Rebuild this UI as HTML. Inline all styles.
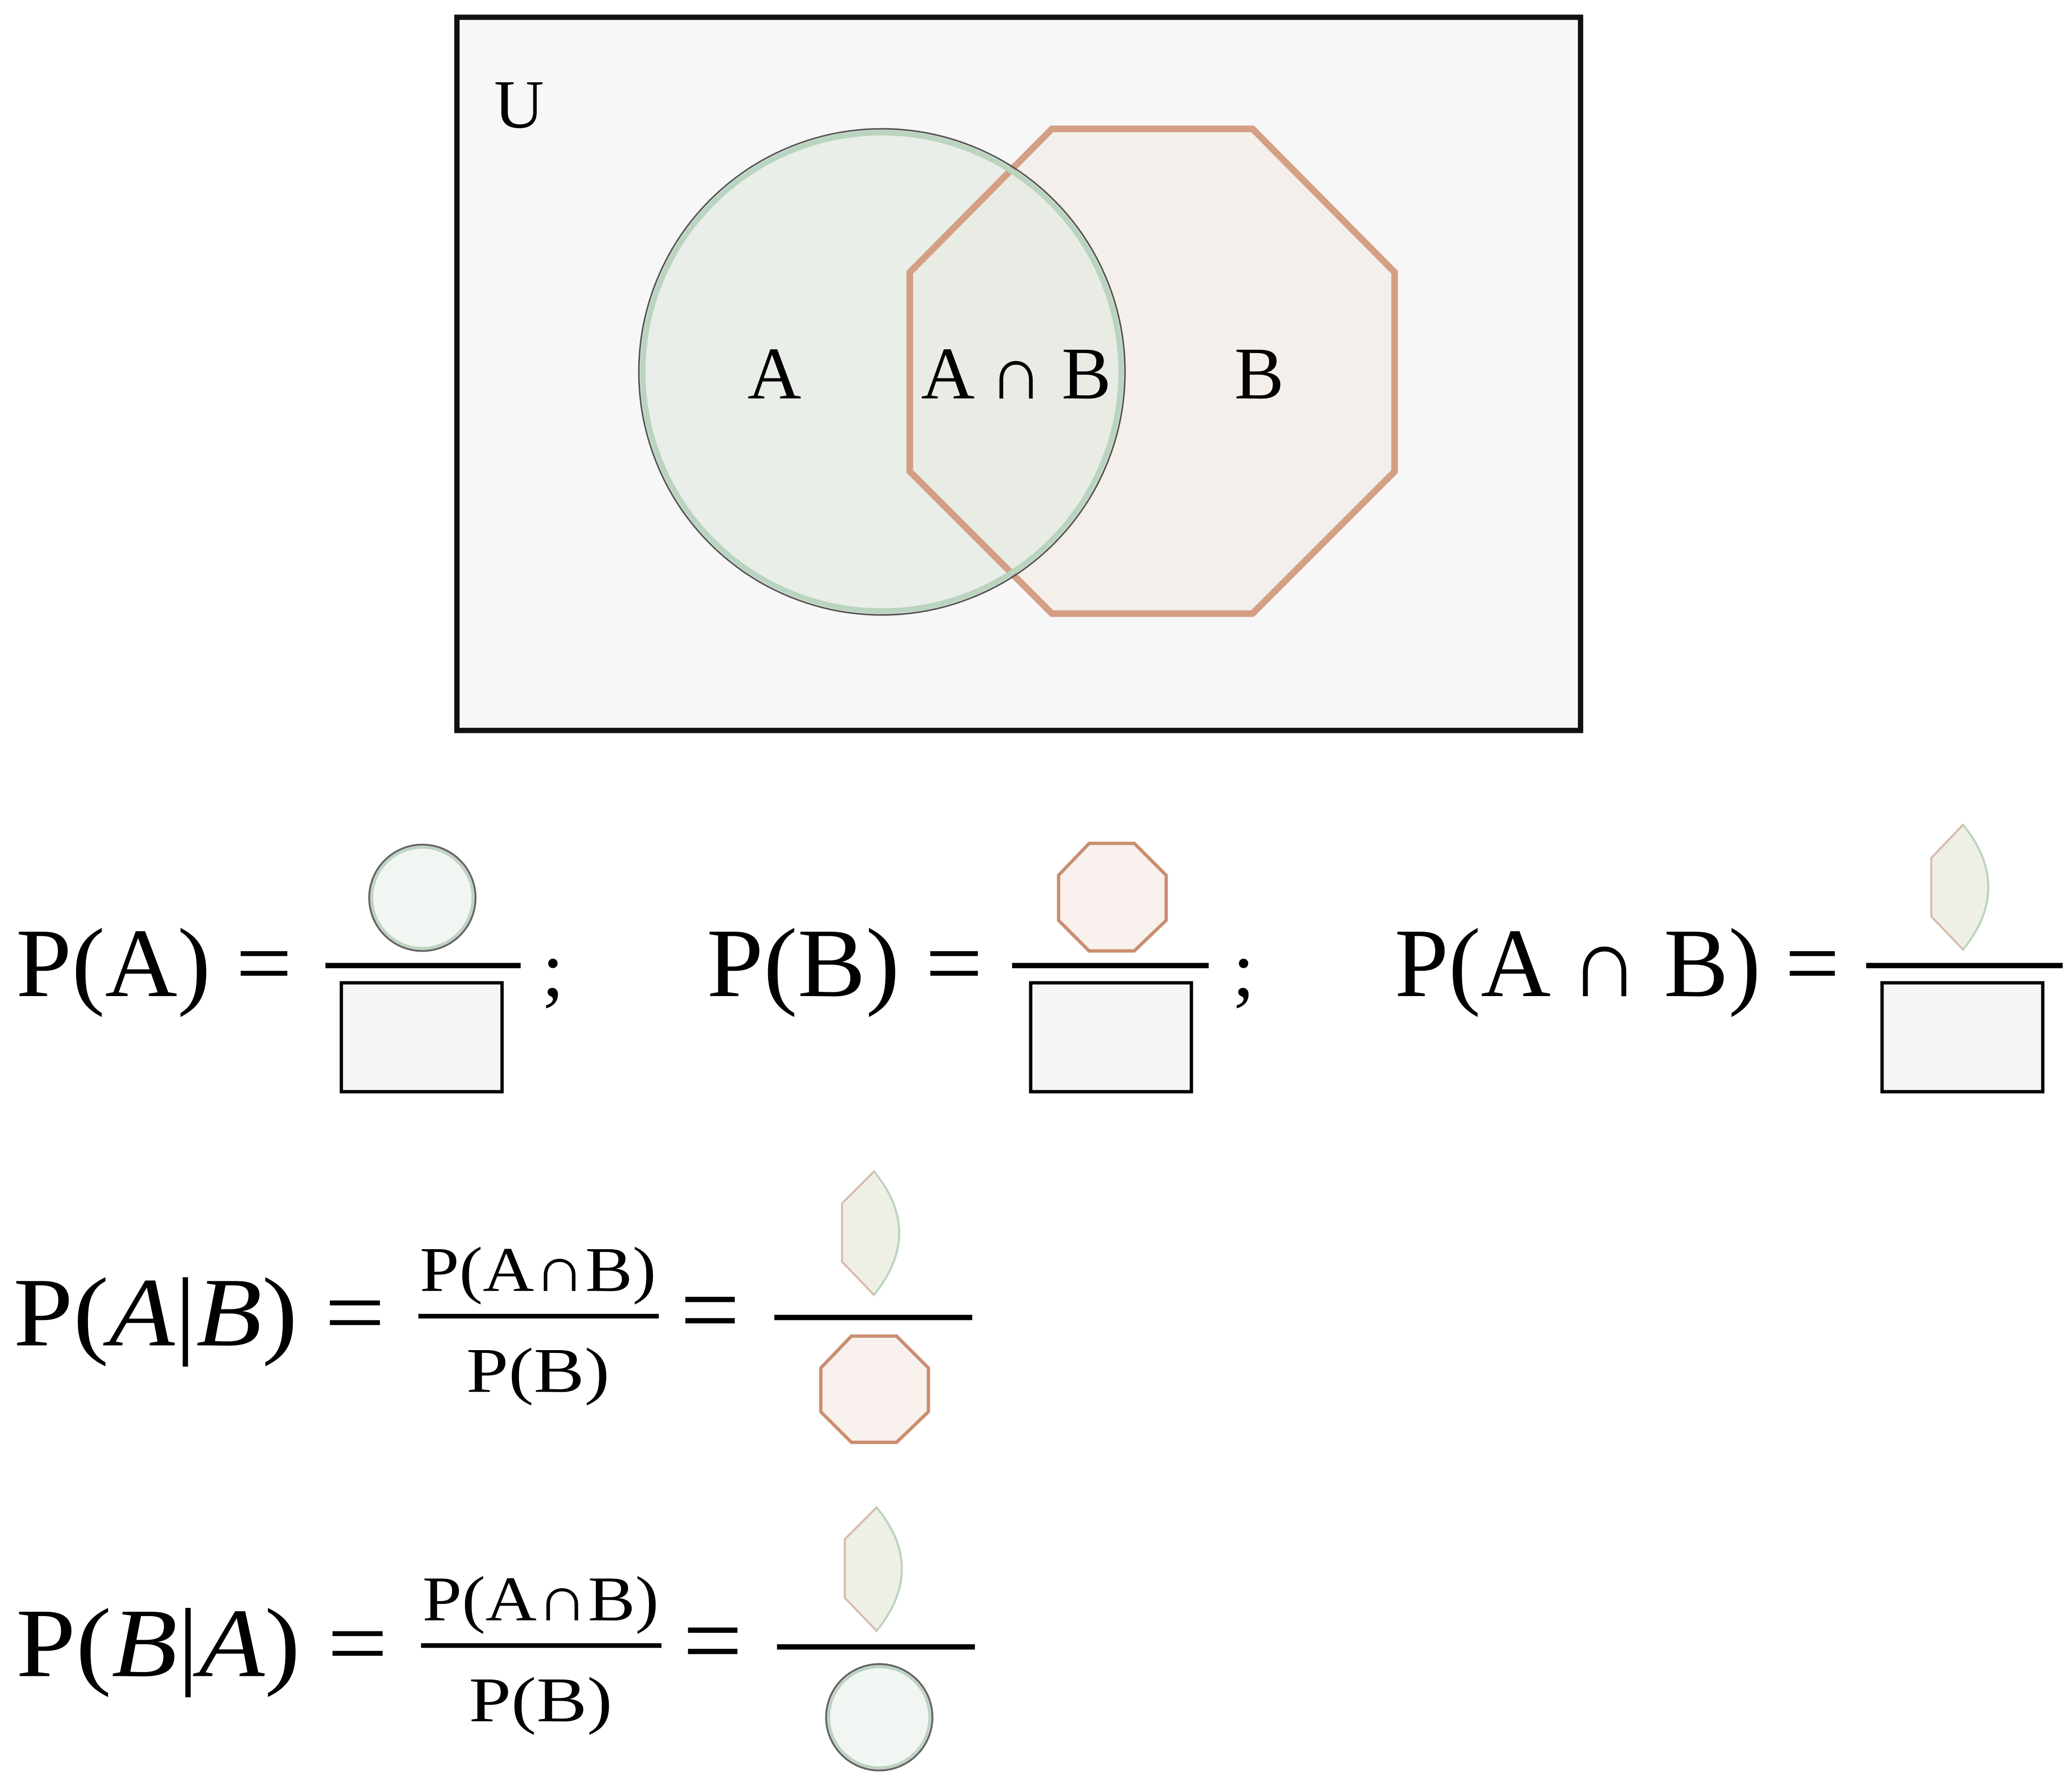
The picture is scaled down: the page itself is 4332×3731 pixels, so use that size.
<!DOCTYPE html>
<html><head><meta charset="utf-8"><style>
html,body{margin:0;padding:0;background:#fff;}
svg{display:block;}
text{font-family:"Liberation Serif",serif;fill:#000;}
</style></head><body>
<svg width="4332" height="3731" viewBox="0 0 1560 1344" preserveAspectRatio="none" xmlns="http://www.w3.org/2000/svg">
<rect x="0" y="0" width="1560" height="1344" fill="#fff"/>
<rect x="344" y="13" width="846" height="537" fill="#f7f7f7" stroke="#111" stroke-width="4"/>
<text x="372" y="96" font-size="52">U</text>
<polygon points="792,97 943,97 1050,205 1050,355 943,462 792,462 685,355 685,205" fill="#f5efeb"/>
<circle cx="664" cy="280" r="183" fill="#e4ebe3" fill-opacity="0.75"/>
<polygon points="792,97 943,97 1050,205 1050,355 943,462 792,462 685,355 685,205" fill="none" stroke="#d49f84" stroke-width="5"/>
<circle cx="664" cy="280" r="183" fill="none" stroke="#555" stroke-width="1.2"/>
<circle cx="664" cy="280" r="180" fill="none" stroke="#b9d4bf" stroke-width="4"/>
<text x="583" y="300" font-size="56" text-anchor="middle">A</text>
<text x="765" y="300" font-size="56" text-anchor="middle">A ∩ B</text>
<text x="948" y="300" font-size="56" text-anchor="middle">B</text>

<text x="12" y="750" font-size="74" textLength="208" lengthAdjust="spacingAndGlyphs">P(A) =</text>
<line x1="245" y1="727" x2="392" y2="727" stroke="#000" stroke-width="4"/>
<circle cx="318" cy="676" r="40" fill="#f2f6f2" stroke="#666" stroke-width="1.5"/>
<circle cx="318" cy="676" r="38" fill="none" stroke="#bcd3c1" stroke-width="2"/>
<rect x="257" y="740" width="121" height="82" fill="#f5f5f5" stroke="#000" stroke-width="2.5"/>
<text x="408" y="750" font-size="60">;</text>

<text x="532" y="750" font-size="74" textLength="208" lengthAdjust="spacingAndGlyphs">P(B) =</text>
<line x1="762" y1="727" x2="910" y2="727" stroke="#000" stroke-width="4"/>
<polygon points="820,635 854,635 878,659 878,693 854,716 820,716 797,693 797,659" fill="#f8f1ee" stroke="#c98e70" stroke-width="2.5"/>
<rect x="776" y="740" width="121" height="82" fill="#f5f5f5" stroke="#000" stroke-width="2.5"/>
<text x="928" y="750" font-size="60">;</text>

<text x="1050" y="750" font-size="74" textLength="335" lengthAdjust="spacingAndGlyphs">P(A ∩ B) =</text>
<line x1="1405" y1="727" x2="1553" y2="727" stroke="#000" stroke-width="4"/>
<path d="M1478,621 L1454,646 L1454,690 L1478,715 Q1516,668 1478,621 Z" fill="#eef0e6" stroke="#d8b9a8" stroke-width="1.5"/>
<path d="M1478,715 Q1516,668 1478,621" fill="none" stroke="#bcd3c1" stroke-width="1.5"/>
<rect x="1417" y="740" width="121" height="82" fill="#f5f5f5" stroke="#000" stroke-width="2.5"/>

<text x="10" y="1013" font-size="74" textLength="280" lengthAdjust="spacingAndGlyphs">P(<tspan font-style="italic">A</tspan>|<tspan font-style="italic">B</tspan>) =</text>
<text x="405" y="972" font-size="48" text-anchor="middle" textLength="178" lengthAdjust="spacingAndGlyphs">P(A∩B)</text>
<line x1="315" y1="991" x2="496" y2="991" stroke="#000" stroke-width="3.5"/>
<text x="405" y="1048" font-size="48" text-anchor="middle" textLength="108" lengthAdjust="spacingAndGlyphs">P(B)</text>
<text x="512" y="1013" font-size="80">=</text>
<line x1="583" y1="992" x2="732" y2="992" stroke="#000" stroke-width="4"/>
<path d="M658,882 L634,906 L634,950 L658,975 Q696,928 658,882 Z" fill="#eef0e6" stroke="#d8b9a8" stroke-width="1.5"/>
<path d="M658,975 Q696,928 658,882" fill="none" stroke="#bcd3c1" stroke-width="1.5"/>
<polygon points="641,1006 675,1006 699,1030 699,1063 675,1086 641,1086 618,1063 618,1030" fill="#f8f1ee" stroke="#c98e70" stroke-width="2.5"/>

<text x="12" y="1262" font-size="74" textLength="280" lengthAdjust="spacingAndGlyphs">P(<tspan font-style="italic">B</tspan>|<tspan font-style="italic">A</tspan>) =</text>
<text x="407" y="1220" font-size="48" text-anchor="middle" textLength="178" lengthAdjust="spacingAndGlyphs">P(A∩B)</text>
<line x1="317" y1="1239" x2="498" y2="1239" stroke="#000" stroke-width="3.5"/>
<text x="407" y="1296" font-size="48" text-anchor="middle" textLength="108" lengthAdjust="spacingAndGlyphs">P(B)</text>
<text x="514" y="1262" font-size="80">=</text>
<line x1="585" y1="1240" x2="734" y2="1240" stroke="#000" stroke-width="4"/>
<path d="M660,1135 L636,1159 L636,1203 L660,1228 Q698,1181 660,1135 Z" fill="#eef0e6" stroke="#d8b9a8" stroke-width="1.5"/>
<path d="M660,1228 Q698,1181 660,1135" fill="none" stroke="#bcd3c1" stroke-width="1.5"/>
<circle cx="662" cy="1293" r="40" fill="#f2f6f2" stroke="#666" stroke-width="1.5"/>
<circle cx="662" cy="1293" r="38" fill="none" stroke="#bcd3c1" stroke-width="2"/>
</svg>
</body></html>
